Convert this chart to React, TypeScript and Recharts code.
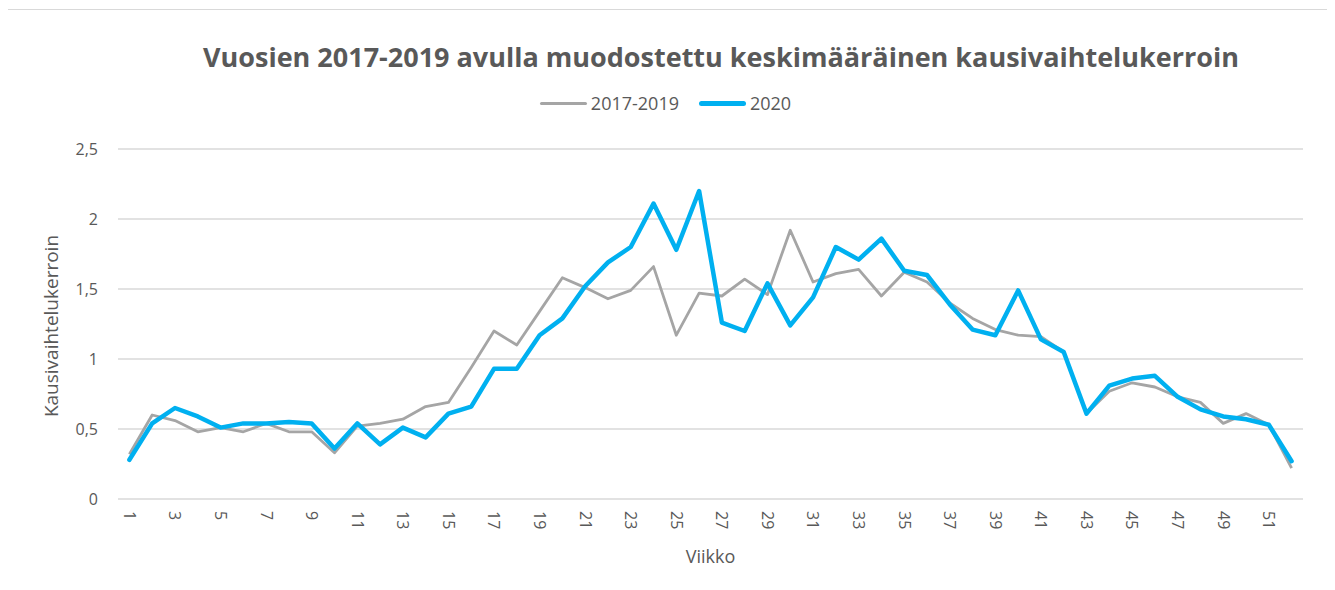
import { LineChart, Line, XAxis, YAxis, CartesianGrid, Legend } from 'recharts';

const weeks = Array.from({ length: 52 }, (_, i) => String(i + 1));

const avg2017to2019 = [
  0.32, 0.6, 0.56, 0.48, 0.51, 0.48, 0.54, 0.48, 0.48, 0.33,
  0.52, 0.54, 0.57, 0.66, 0.69, 0.94, 1.2, 1.1, 1.34, 1.58,
  1.51, 1.43, 1.49, 1.66, 1.17, 1.47, 1.45, 1.57, 1.46, 1.92,
  1.55, 1.61, 1.64, 1.45, 1.62, 1.55, 1.4, 1.29, 1.21, 1.17,
  1.16, 1.05, 0.61, 0.77, 0.83, 0.8, 0.73, 0.69, 0.54, 0.61,
  0.53, 0.22,
];

const values2020 = [
  0.28, 0.54, 0.65, 0.59, 0.51, 0.54, 0.54, 0.55, 0.54, 0.36,
  0.54, 0.39, 0.51, 0.44, 0.61, 0.66, 0.93, 0.93, 1.17, 1.29,
  1.52, 1.69, 1.8, 2.11, 1.78, 2.2, 1.26, 1.2, 1.54, 1.24,
  1.44, 1.8, 1.71, 1.86, 1.63, 1.6, 1.39, 1.21, 1.17, 1.49,
  1.14, 1.05, 0.61, 0.81, 0.86, 0.88, 0.73, 0.64, 0.59, 0.57,
  0.53, 0.27,
];

const yTicks = [0, 0.5, 1, 1.5, 2, 2.5];

const data = weeks.map((week, i) => ({
  week,
  base: avg2017to2019[i],
  current: values2020[i],
}));

const FONT = '"Open Sans", "Liberation Sans", sans-serif';
const TEXT = '#595959';
const GRAY = '#A5A5A5';
const BLUE = '#00B0F0';

const fmt = (v: number) => String(v).replace('.', ',');

function WeekTick({ x, y, payload }: any) {
  return (
    <g transform={`translate(${x},${y})`}>
      <text
        transform="rotate(90)"
        x={0}
        y={0}
        dy="0.35em"
        textAnchor="start"
        fill={TEXT}
        fontSize={16}
        fontFamily={FONT}
      >
        {payload.value}
      </text>
    </g>
  );
}

function LegendContent({ payload }: any) {
  return (
    <div
      style={{
        display: 'flex',
        justifyContent: 'center',
        alignItems: 'center',
        gap: 20,
        paddingRight: 5,
        fontFamily: FONT,
        fontSize: 18,
        lineHeight: '20px',
        color: TEXT,
      }}
    >
      {(payload || []).map((p: any) => (
        <span key={p.value} style={{ display: 'flex', alignItems: 'center' }}>
          <span
            style={{
              display: 'inline-block',
              width: 47,
              height: p.color === BLUE ? 5 : 3,
              borderRadius: 3,
              background: p.color,
              marginRight: 4,
            }}
          />
          {p.value}
        </span>
      ))}
    </div>
  );
}

export default function App() {
  return (
    <div
      style={{
        position: 'relative',
        left: -1,
        top: 1,
        width: 1320,
        height: 600,
        border: '1px solid #D9D9D9',
        borderBottom: 'none',
        background: '#fff',
      }}
    >
      <div
        style={{
          position: 'absolute',
          left: 713,
          top: 30,
          transform: 'translateX(-50%)',
          whiteSpace: 'nowrap',
          fontFamily: FONT,
          fontWeight: 700,
          fontSize: 27,
          lineHeight: '34px',
          color: TEXT,
        }}
      >
        Vuosien 2017-2019 avulla muodostettu keskimääräinen kausivaihtelukerroin
      </div>
      <LineChart
        width={1320}
        height={580}
        data={data}
        margin={{ top: 139, right: 25, bottom: 11, left: 0 }}
      >
        <CartesianGrid vertical={false} stroke="#D9D9D9" strokeWidth={1.3} />
        <XAxis
          dataKey="week"
          interval={1}
          axisLine={false}
          tickLine={false}
          tickSize={0}
          tickMargin={12}
          height={80}
          padding={{ left: 11.4, right: 11.4 }}
          tick={<WeekTick />}
          label={{
            value: 'Viikko',
            position: 'insideBottom',
            offset: 16,
            fill: TEXT,
            fontSize: 18,
            fontFamily: FONT,
          }}
        />
        <YAxis
          width={110}
          domain={[0, 2.5]}
          ticks={yTicks}
          tickFormatter={fmt}
          axisLine={false}
          tickLine={false}
          tickSize={0}
          tickMargin={20}
          tick={{ fill: TEXT, fontSize: 16, fontFamily: FONT }}
          label={{
            content: () => (
              <text
                x={43}
                y={316}
                transform="rotate(-90 43 316)"
                textAnchor="middle"
                dominantBaseline="central"
                fill={TEXT}
                fontSize={19}
                fontFamily={FONT}
              >
                Kausivaihtelukerroin
              </text>
            ),
          }}
        />
        <Legend
          verticalAlign="middle"
          align="center"
          layout="horizontal"
          wrapperStyle={{ top: 83, left: 0, width: 1320 }}
          content={<LegendContent />}
        />
        <Line
          type="linear"
          dataKey="base"
          name="2017-2019"
          stroke={GRAY}
          strokeWidth={2.8}
          strokeLinejoin="round"
          dot={false}
          isAnimationActive={false}
        />
        <Line
          type="linear"
          dataKey="current"
          name="2020"
          stroke={BLUE}
          strokeWidth={4.5}
          strokeLinejoin="round"
          strokeLinecap="round"
          dot={false}
          isAnimationActive={false}
        />
      </LineChart>
    </div>
  );
}
